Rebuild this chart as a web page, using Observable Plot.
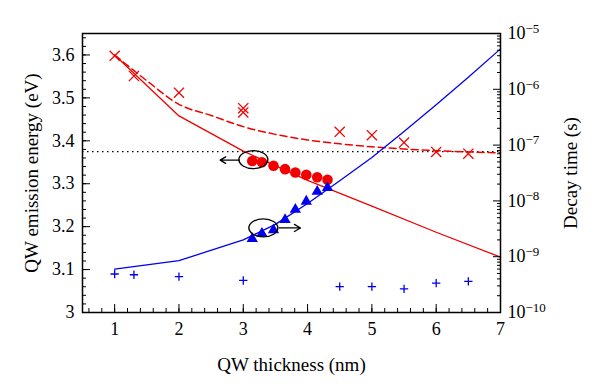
<!DOCTYPE html>
<html><head><meta charset="utf-8">
<script src="https://cdn.jsdelivr.net/npm/d3@7"></script>
<script src="https://cdn.jsdelivr.net/npm/@observablehq/plot@0.6"></script>
<style>body{margin:0;background:#fff}</style>
</head><body><div id="chart"></div>
<script>
// ---- data (left axis: emission energy, eV) ----
const crossX = [1, 1.3, 2, 3, 3, 4.5, 5, 5.5, 6, 6.5];
const crossE = [3.598, 3.551, 3.512, 3.476, 3.466, 3.421, 3.413, 3.396, 3.374, 3.370];
const dashedX = [1, 1.5, 2, 2.5, 3, 3.5, 4, 4.5, 5, 5.5, 6, 6.5, 7];
const dashedE = [3.600, 3.540, 3.485, 3.459, 3.433, 3.415, 3.402, 3.393, 3.386, 3.381, 3.377, 3.374, 3.372];
const solidX = [1, 2, 3, 4, 5, 6, 7];
const solidE = [3.600, 3.458, 3.376, 3.308, 3.248, 3.187, 3.129];
const circleX = [3.14, 3.29, 3.47, 3.65, 3.81, 3.98, 4.15, 4.31];
const circleE = [3.353, 3.350, 3.342, 3.334, 3.326, 3.321, 3.315, 3.309];
const bulkE = 3.375;
// ---- data (right axis: decay time, s) ----
const triX = [3.14, 3.29, 3.47, 3.65, 3.81, 3.98, 4.15, 4.31];
const triT = [2.1e-9, 2.6e-9, 3.0e-9, 4.6e-9, 7.0e-9, 9.8e-9, 1.47e-8, 1.72e-8];
const blueX = [1, 2, 3, 3.5, 4, 4.5, 5, 5.5, 6, 6.5, 7];
const blueT = [6.0e-10, 8.5e-10, 2.0e-9, 3.8e-9, 9.0e-9, 2.3e-8, 6.0e-8, 1.75e-7, 5.3e-7, 1.65e-6, 5.3e-6];
const plusX = [1, 1.3, 2, 3, 4.5, 5, 5.5, 6, 6.5];
const plusT = [4.9e-10, 4.75e-10, 4.4e-10, 3.75e-10, 2.9e-10, 2.9e-10, 2.65e-10, 3.35e-10, 3.6e-10];
// ---- annotations ----
const ellipseX = [3.165, 3.32];
const ellipseE = [3.355, 3.196];
const arrowX1 = [2.94, 3.56];
const arrowX2 = [2.64, 3.89];
const arrowE = [3.355, 3.197];
// ---- ticks ----
const xMajor = [1, 2, 3, 4, 5, 6, 7];
const leftMajor = [3, 3.1, 3.2, 3.3, 3.4, 3.5, 3.6];
const rightExp = [-10, -9, -8, -7, -6, -5];

const red = "#f20000", blue = "#0000ee";
const E0 = 3, E1 = 3.65, L0 = -10, L1 = -5;
const toE = t => E0 + (Math.log10(t) - L0) / (L1 - L0) * (E1 - E0);
const expOf = e => Math.round((e - E0) / (E1 - E0) * (L1 - L0) + L0);

const xMinor = d3.range(0.6, 7.001, 0.2).map(v => +v.toFixed(2));
const leftMinor = d3.range(3, 3.6401, 0.02).map(v => +v.toFixed(2));
const rightMinor = [];
rightExp.slice(0, -1).forEach(p => { for (let k = 2; k <= 9; k++) rightMinor.push(toE(k * Math.pow(10, p))); });

const pts = (xs, ys, f = v => v) => xs.map((x, i) => ({x, y: f(ys[i])}));
const titleFont = 19;

const chart = Plot.plot({
  width: 600, height: 390,
  marginLeft: 82, marginRight: 100, marginTop: 33, marginBottom: 78,
  style: {fontFamily: "'Liberation Serif', serif", fontSize: "18px", background: "white", color: "black"},
  x: {domain: [0.5, 7]},
  y: {domain: [E0, E1]},
  marks: [
    Plot.ruleY([bulkE], {stroke: "black", strokeDasharray: "1.5,3.5", strokeWidth: 1.3}),
    Plot.line(pts(solidX, solidE), {x: "x", y: "y", stroke: red, strokeWidth: 1.3}),
    Plot.line(pts(dashedX, dashedE), {x: "x", y: "y", stroke: red, strokeWidth: 1.5, strokeDasharray: "7,4", curve: "monotone-x"}),
    Plot.line(pts(blueX, blueT, toE), {x: "x", y: "y", stroke: blue, strokeWidth: 1.3}),
    Plot.dot(pts(crossX, crossE), {x: "x", y: "y", symbol: "times", r: 4.7, stroke: red, strokeWidth: 1.3}),
    Plot.dot(pts(plusX, plusT, toE), {x: "x", y: "y", symbol: "plus", r: 2.8, stroke: blue, strokeWidth: 1.3}),
    Plot.dot(pts(circleX, circleE), {x: "x", y: "y", r: 5.3, fill: red, stroke: "none"}),
    Plot.dot(pts(triX, triT, toE), {x: "x", y: "y", symbol: "triangle", r: 4.2, fill: blue, stroke: "none"}),
    Plot.arrow(arrowX1.map((x1, i) => ({x1, x2: arrowX2[i], y: arrowE[i]})),
      {x1: "x1", x2: "x2", y1: "y", y2: "y", stroke: "black", strokeWidth: 1.3, headLength: 9}),
    // x axis
    Plot.axisX(xMajor, {tickSize: -8, tickFormat: () => "", label: null}),
    Plot.axisX(xMinor, {tickSize: -4, tickFormat: () => "", label: null}),
    Plot.axisX(xMajor, {tickSize: 0, tickPadding: 10, fontSize: 18, label: null}),
    Plot.axisX([], {tickSize: 0, fontSize: titleFont, label: "QW thickness (nm)", labelArrow: "none", labelAnchor: "center", labelOffset: 58}),
    // left axis
    Plot.axisY(leftMajor, {anchor: "left", tickSize: -8, tickFormat: () => "", label: null}),
    Plot.axisY(leftMinor, {anchor: "left", tickSize: -4, tickFormat: () => "", label: null}),
    Plot.axisY(leftMajor, {anchor: "left", tickSize: 0, tickPadding: 8, fontSize: 18, tickFormat: d3.format("~g"), label: null}),
    Plot.axisY([], {anchor: "left", tickSize: 0, fontSize: titleFont,
      label: "QW emission energy (eV)", labelArrow: "none", labelAnchor: "center", labelOffset: 58}),
    // right axis
    Plot.axisY(rightExp.map(p => toE(Math.pow(10, p))), {anchor: "right", tickSize: -8, tickFormat: () => "", label: null}),
    Plot.axisY(rightMinor, {anchor: "right", tickSize: -4, tickFormat: () => "", label: null}),
    Plot.axisY(rightExp.map(p => toE(Math.pow(10, p))), {anchor: "right", tickSize: 0, tickPadding: 7, fontSize: 18,
      tickFormat: d => "10^" + expOf(d), label: null}),
    Plot.axisY([], {anchor: "right", tickSize: 0, fontSize: titleFont,
      label: "Decay time (s)", labelArrow: "none", labelAnchor: "center", labelOffset: 76}),
    Plot.frame({stroke: "black", strokeWidth: 1.5})
  ]
});

// superscript exponents
d3.select(chart).selectAll("text").each(function () {
  const s = this.textContent;
  if (!s.startsWith("10^")) return;
  const exp = s.slice(3).replace("-", "\u2212");
  const t = d3.select(this);
  t.text("10");
  t.append("tspan").attr("dy", "-0.5em").attr("font-size", "13px").text(exp);
});

// annotation ellipses placed through the plot's own scales
const sx = chart.scale("x"), sy = chart.scale("y");
const fx = d3.scaleLinear(sx.domain, sx.range), fy = d3.scaleLinear(sy.domain, sy.range);
ellipseX.forEach((x, i) => {
  d3.select(chart).append("ellipse")
    .attr("cx", fx(x)).attr("cy", fy(ellipseE[i]))
    .attr("rx", 14.5).attr("ry", 9)
    .attr("fill", "none").attr("stroke", "black").attr("stroke-width", 1.4);
});

document.getElementById("chart").appendChild(chart);
</script>
</body></html>
